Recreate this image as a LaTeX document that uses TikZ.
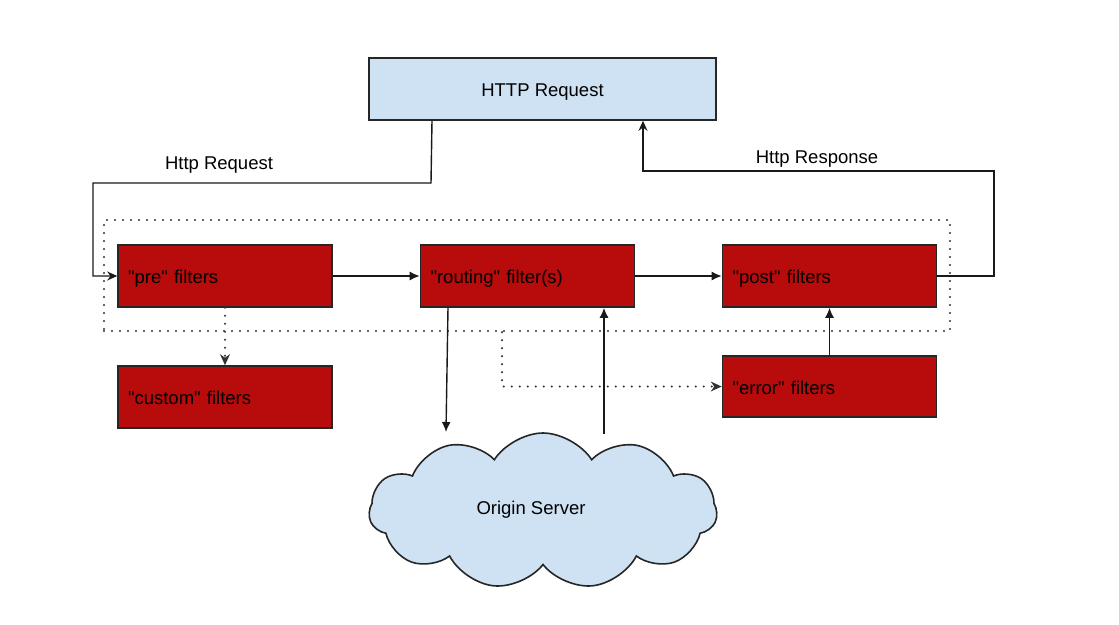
\documentclass[tikz,border=0pt]{standalone}
\usepackage{fontspec}
\setmainfont{Liberation Sans}[Ligatures=TeXOff]
\usetikzlibrary{arrows.meta,shapes.symbols}
\definecolor{filtred}{RGB}{184,11,11}
\definecolor{lblue}{RGB}{207,226,243}
\begin{document}
\begin{tikzpicture}[x=1pt,y=-1pt,
  every node/.style={font=\fontsize{18.5}{22}\selectfont, text height=17pt, text depth=2pt},
  filt/.style={draw=black!85, line width=1.6pt, fill=filtred, minimum height=62pt,
    text width=194pt, inner xsep=10pt, align=left},
  req/.style={draw=black!85, line width=1.6pt, fill=lblue, minimum width=347pt, minimum height=62pt},
  conn/.style={line width=1.4pt, black!90},
  arr/.style={conn, -{Latex[length=10pt,width=9pt]}},
  sarr/.style={conn, -{Stealth[length=10pt,width=9pt]}},
  dots/.style={line width=2.3pt, black!80, line cap=round, dash pattern=on 0pt off 8pt},
  darr/.style={dots, -{Stealth[length=11pt,width=10pt,line width=0pt]}},
  lbl/.style={inner sep=1pt}
]
\useasboundingbox (0,0) rectangle (1119,624);

% dotted frame
\node[dots, draw, minimum width=846pt, minimum height=111pt, inner sep=0pt] (grp) at (527,275.5) {};

% nodes
\node[req] (http) at (542.5,89) {HTTP Request};
\node[filt] (pre) at (225,276) {"pre" filters};
\node[filt] (routing) at (527.5,276) {"routing" filter(s)};
\node[filt] (post) at (829.5,276) {"post" filters};
\node[filt] (custom) at (225,397) {"custom" filters};
\node[filt, minimum height=61pt] (error) at (829.5,386.5) {"error" filters};
\node[cloud, cloud puffs=11, cloud puff arc=115, aspect=2.2, draw=black!85, line width=1.6pt,
  fill=lblue, minimum width=348pt, minimum height=156pt, inner sep=0pt] (origin) at (543,511) {};
\node (originlbl) at (531,507) {Origin Server};

% labels
\node[lbl] (lreq) at (219,162) {Http Request};
\node[lbl] (lresp) at (817,156) {Http Response};

% coordinates
\coordinate (rq1) at (431,183);
\coordinate (rq2) at (93,183);
\coordinate (rs1) at (994,171);
\coordinate (c1) at (446,432);
\coordinate (c2) at (604,434);

% connectors
\draw[sarr] ([xshift=-110.5pt]http.south) -- (rq1) -- (rq2) |- (pre.west);
\draw[sarr] (post.east) -| (rs1) -| ([xshift=100.5pt]http.south);
\draw[arr] (pre.east) -- (routing.west);
\draw[arr] (routing.east) -- (post.west);
\draw[darr] (pre.south) -- (custom.north);
\draw[arr] ([xshift=-79.5pt]routing.south) -- (c1);
\draw[arr] (c2) -- (routing.south -| c2);
\draw[arr] (error.north) -- (post.south);
\draw[darr] ([xshift=-25pt]grp.south) |- (error.west);
\end{tikzpicture}
\end{document}
